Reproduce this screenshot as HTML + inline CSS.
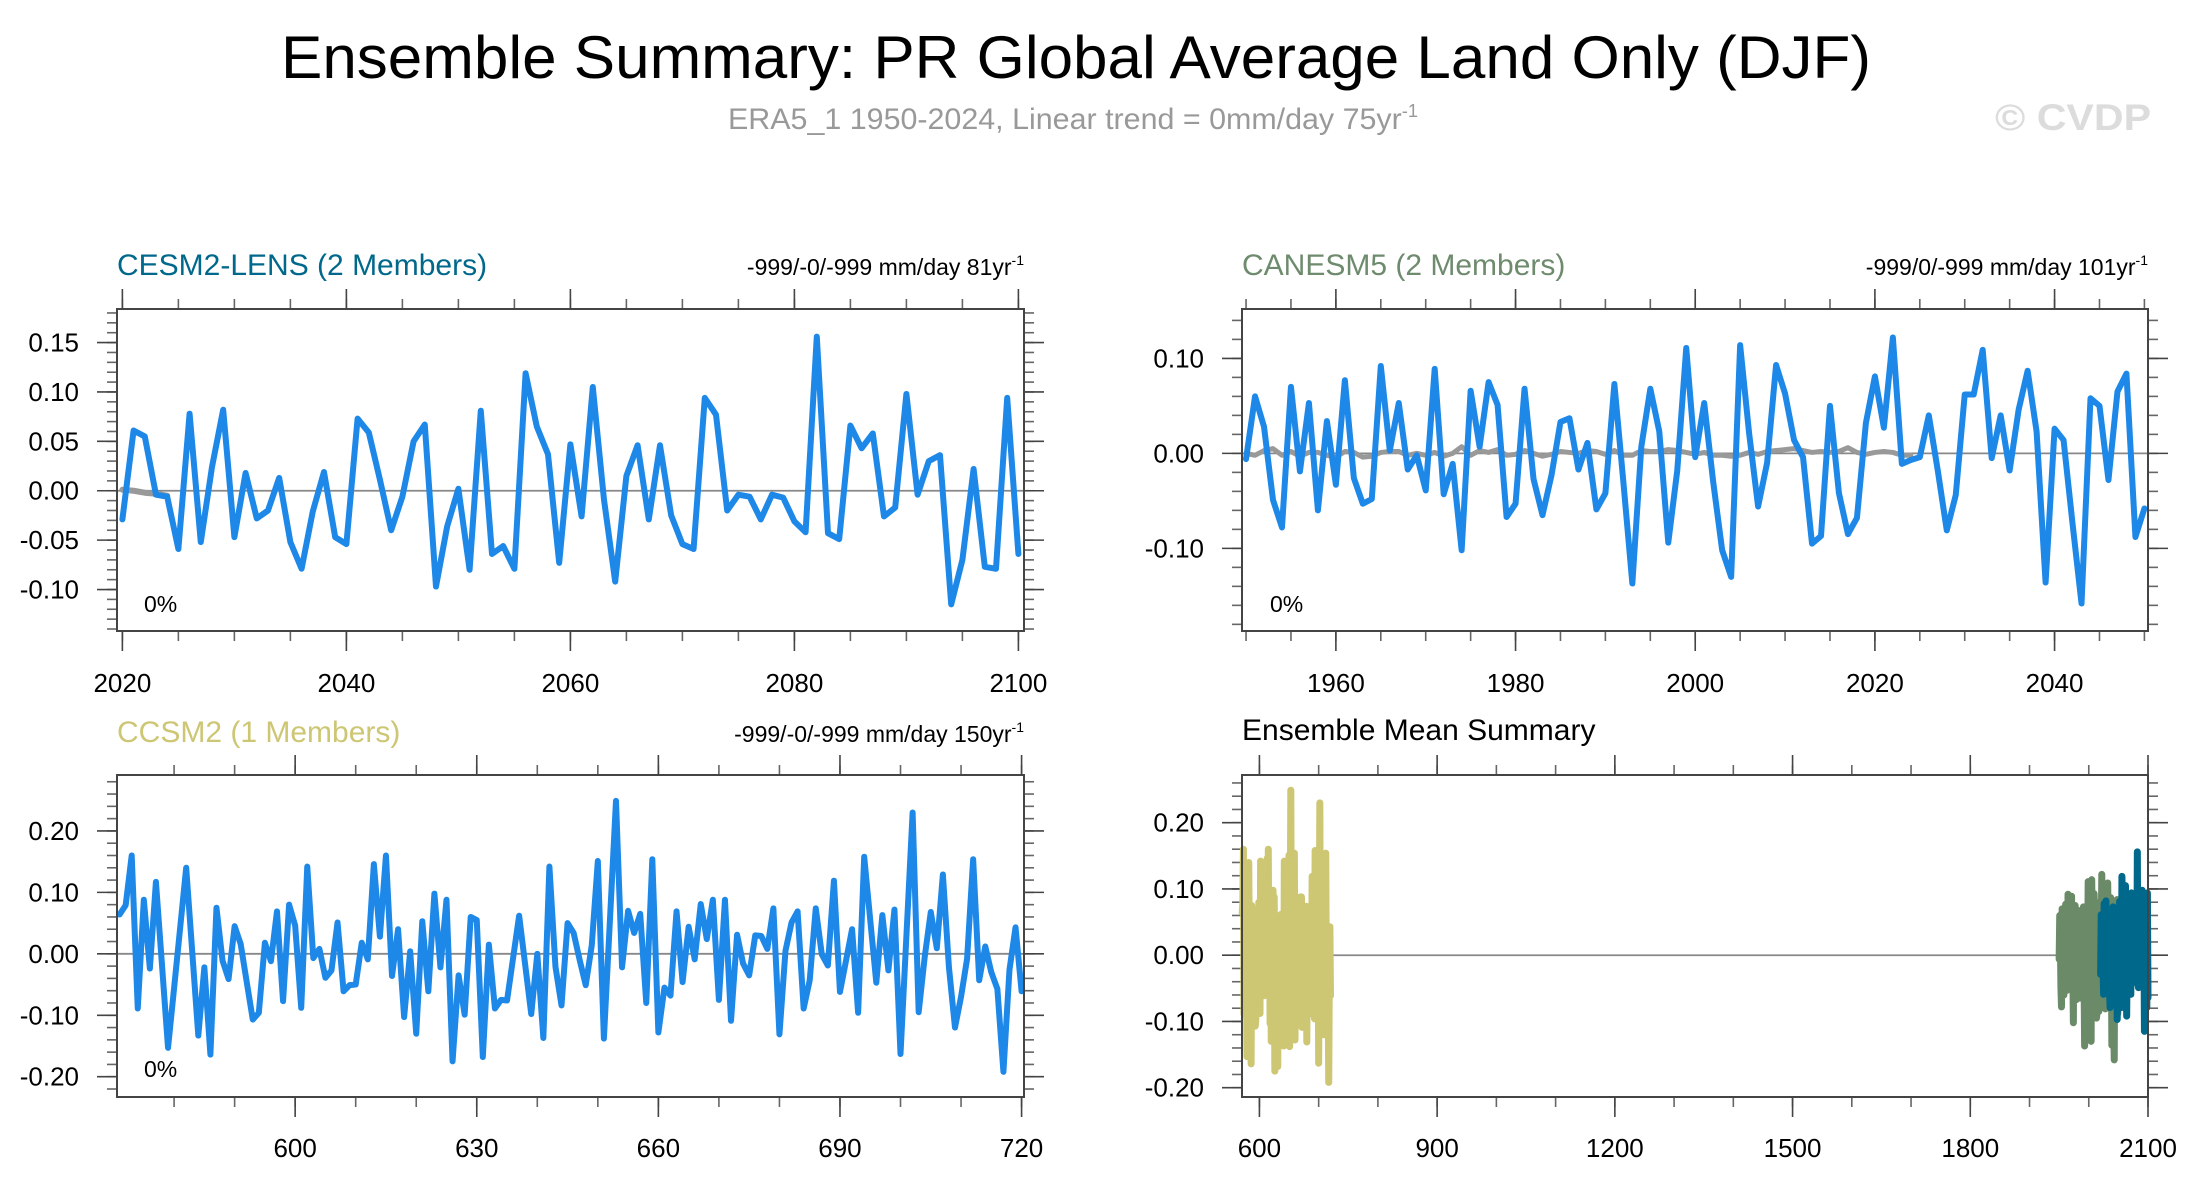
<!DOCTYPE html>
<html><head><meta charset="utf-8">
<style>
html,body{margin:0;padding:0;background:#fff;}
svg{display:block;font-family:"Liberation Sans",Arial,sans-serif;}
</style></head>
<body>
<svg id="chart" width="2189" height="1190" viewBox="0 0 2189 1190" xmlns="http://www.w3.org/2000/svg">
<rect width="2189" height="1190" fill="#fff"/>
<text x="1076" y="78" font-size="60" text-anchor="middle" textLength="1590" lengthAdjust="spacingAndGlyphs" fill="#000">Ensemble Summary: PR Global Average Land Only (DJF)</text>
<text x="728" y="129" font-size="30" fill="#999" textLength="690" lengthAdjust="spacingAndGlyphs">ERA5_1 1950-2024, Linear trend = 0mm/day 75yr<tspan dy="-12" font-size="18">-1</tspan></text>
<text x="1995" y="130" font-size="37" font-weight="bold" fill="#dcdcdc" textLength="156" lengthAdjust="spacingAndGlyphs">© CVDP</text>
<g id="plots"></g>
</svg>
<script>
// ---- Data ----
const cesmYears = [2020, 2100];
const cesmValues = [-0.029,0.061,0.055,-0.004,-0.006,-0.059,0.078,-0.052,0.024,0.082,-0.047,0.018,-0.028,-0.020,0.013,-0.052,-0.079,-0.021,0.019,-0.047,-0.054,0.073,0.059,0.011,-0.040,-0.006,0.050,0.067,-0.097,-0.036,0.002,-0.080,0.081,-0.064,-0.056,-0.079,0.119,0.065,0.037,-0.073,0.047,-0.026,0.105,-0.009,-0.092,0.015,0.046,-0.029,0.046,-0.025,-0.054,-0.059,0.094,0.077,-0.020,-0.004,-0.006,-0.029,-0.004,-0.007,-0.031,-0.042,0.156,-0.043,-0.049,0.066,0.043,0.058,-0.026,-0.017,0.098,-0.004,0.030,0.036,-0.115,-0.070,0.022,-0.077,-0.079,0.094,-0.064];
const cesmSpread = [0.001,0.000,-0.002,-0.003,-0.005];
const caneYears = [1950, 2050];
const caneValues = [-0.006,0.060,0.028,-0.049,-0.078,0.070,-0.019,0.053,-0.060,0.034,-0.033,0.077,-0.026,-0.053,-0.048,0.092,0.003,0.053,-0.017,-0.002,-0.039,0.089,-0.043,-0.011,-0.102,0.066,0.007,0.075,0.051,-0.067,-0.053,0.068,-0.027,-0.065,-0.023,0.033,0.037,-0.017,0.011,-0.059,-0.042,0.073,-0.030,-0.137,0.007,0.068,0.023,-0.094,-0.018,0.111,-0.004,0.053,-0.030,-0.102,-0.130,0.114,0.021,-0.056,-0.010,0.093,0.063,0.014,-0.004,-0.095,-0.087,0.050,-0.042,-0.085,-0.068,0.032,0.081,0.027,0.122,-0.011,-0.007,-0.004,0.040,-0.018,-0.081,-0.044,0.062,0.062,0.109,-0.005,0.040,-0.018,0.046,0.087,0.023,-0.136,0.026,0.014,-0.074,-0.158,0.058,0.050,-0.028,0.065,0.084,-0.088,-0.058];
const caneSpread = [0.000,-0.002,0.003,0.005,-0.002,0.002,-0.003,0.001,0.001,-0.002,-0.004,0.002,0.001,-0.004,-0.003,0.001,0.002,0.002,-0.002,0.000,-0.002,0.001,-0.003,0.000,0.007,-0.002,0.003,0.001,0.004,-0.002,-0.001,0.003,0.000,-0.003,-0.001,0.002,0.001,0.000,0.003,0.002,-0.001,0.003,-0.002,-0.002,0.003,0.002,0.002,0.004,0.003,0.001,-0.001,0.001,-0.002,-0.002,-0.003,-0.002,0.001,-0.001,0.002,0.003,0.004,0.005,0.003,0.001,0.002,0.001,0.002,0.006,0.001,-0.001,0.001,0.002,0.001,-0.002,-0.002];
const ccsmYears = [571, 720];
const ccsmValues = [0.064,0.079,0.160,-0.089,0.088,-0.024,0.117,-0.018,-0.153,-0.056,0.042,0.140,0.003,-0.133,-0.022,-0.164,0.075,-0.011,-0.041,0.045,0.016,-0.046,-0.107,-0.096,0.018,-0.012,0.069,-0.077,0.080,0.046,-0.088,0.142,-0.007,0.008,-0.039,-0.027,0.051,-0.061,-0.051,-0.050,0.018,-0.009,0.146,0.028,0.160,-0.036,0.040,-0.103,0.004,-0.130,0.053,-0.061,0.098,-0.022,0.088,-0.175,-0.035,-0.099,0.060,0.055,-0.168,0.015,-0.089,-0.075,-0.076,-0.007,0.062,-0.018,-0.098,0.000,-0.137,0.142,-0.021,-0.084,0.050,0.034,-0.010,-0.051,0.014,0.151,-0.138,0.055,0.249,-0.022,0.070,0.034,0.065,-0.080,0.154,-0.128,-0.055,-0.068,0.069,-0.046,0.044,-0.009,0.081,0.024,0.088,-0.075,0.088,-0.109,0.031,-0.016,-0.035,0.030,0.029,0.008,0.074,-0.131,0.005,0.051,0.069,-0.089,-0.043,0.074,-0.001,-0.019,0.119,-0.062,-0.011,0.040,-0.096,0.158,0.055,-0.047,0.063,-0.027,0.072,-0.163,0.034,0.230,-0.095,-0.005,0.068,0.009,0.129,-0.022,-0.120,-0.070,-0.008,0.154,-0.043,0.012,-0.030,-0.057,-0.192,-0.026,0.043,-0.061];

const p1YTicks = [0.15,0.10,0.05,0.00,-0.05,-0.10];
const p1XTicks = [2020,2040,2060,2080,2100];
const p2YTicks = [0.10,0.00,-0.10];
const p2XTicks = [1960,1980,2000,2020,2040];
const p3YTicks = [0.20,0.10,0.00,-0.10,-0.20];
const p3XTicks = [600,630,660,690,720];
const p4YTicks = [0.20,0.10,0.00,-0.10,-0.20];
const p4XTicks = [600,900,1200,1500,1800,2100];

const NS = 'http://www.w3.org/2000/svg';
const root = document.getElementById('plots');
function mk(tag, attrs, parent) {
  const e = document.createElementNS(NS, tag);
  for (const k in attrs) e.setAttribute(k, attrs[k]);
  (parent || root).appendChild(e);
  return e;
}
function seriesPath(years, vals, sx, sy) {
  let d = '';
  vals.forEach((v, i) => { d += (i ? 'L' : 'M') + sx(years[0] + i).toFixed(2) + ',' + sy(v).toFixed(2); });
  return d;
}
function panel(cfg) {
  const g = mk('g', {});
  
  
  const L = cfg.box[0], T = cfg.box[1], R = cfg.box[2], B = cfg.box[3];
  const sx = x => L + (x - cfg.xd[0]) / (cfg.xd[1] - cfg.xd[0]) * (R - L);
  const sy = y => T + (cfg.yd[1] - y) / (cfg.yd[1] - cfg.yd[0]) * (B - T);
  const tk = mk('g', { stroke: '#666', 'stroke-width': 1.6 }, g);
  
  
  for (let x = Math.ceil(cfg.xd[0] / cfg.xMinor) * cfg.xMinor; x <= cfg.xd[1] + 1e-9; x += cfg.xMinor) {
    const X = sx(x);
    mk('line', { x1: X, y1: T, x2: X, y2: T - 10 }, tk);
    mk('line', { x1: X, y1: B, x2: X, y2: B + 10 }, tk);
  }
  const ymin = Math.ceil(cfg.yd[0] / cfg.yMinor - 1e-6);
  const ymax = Math.floor(cfg.yd[1] / cfg.yMinor + 1e-6);
  for (let k = ymin; k <= ymax; k++) {
    const Y = sy(k * cfg.yMinor);
    mk('line', { x1: L, y1: Y, x2: L - 10, y2: Y }, tk);
    mk('line', { x1: R, y1: Y, x2: R + 10, y2: Y }, tk);
  }
  cfg.xTicks.forEach(x => {
    const X = sx(x);
    mk('line', { x1: X, y1: T, x2: X, y2: T - 20, stroke: '#444' }, tk);
    mk('line', { x1: X, y1: B, x2: X, y2: B + 20, stroke: '#444' }, tk);
    const t = mk('text', { x: X, y: cfg.xLabelY, 'font-size': 26, 'text-anchor': 'middle', fill: '#000', stroke: 'none' }, g);
    t.textContent = String(x);
    
    
  });
  cfg.yTicks.forEach(y => {
    const Y = sy(y);
    mk('line', { x1: L, y1: Y, x2: L - 20, y2: Y, stroke: '#444' }, tk);
    mk('line', { x1: R, y1: Y, x2: R + 20, y2: Y, stroke: '#444' }, tk);
    const t = mk('text', { x: L - 38, y: Y + 9, 'font-size': 26, 'text-anchor': 'end', fill: '#000' }, g);
    t.textContent = y.toFixed(2);
    
    
  });
  const zl = mk('line', { x1: L, x2: R, y1: sy(0), y2: sy(0), stroke: '#888', 'stroke-width': 1.8 }, g);
  
  
  cfg.series.forEach(s => {
    const p = mk('path', { d: seriesPath(s.years, s.vals, sx, sy), fill: 'none', stroke: s.color, 'stroke-width': s.w, 'stroke-linejoin': 'round', 'stroke-linecap': 'round' }, g);
    
    
  });
  const box = mk('rect', { x: L, y: T, width: R - L, height: B - T, fill: 'none', stroke: '#444', 'stroke-width': 2 }, g);
  
  
  const tt = mk('text', { x: L, y: cfg.titleY, 'font-size': 30, fill: cfg.titleColor }, g);
  tt.textContent = cfg.title;
  
  
  if (cfg.right) {
    const rt = mk('text', { x: R, y: cfg.titleY, 'font-size': 23, 'text-anchor': 'end', fill: '#000' }, g);
    rt.innerHTML = cfg.right + '<tspan dy="-10" font-size="14">-1</tspan>';
    
    
  }
  if (cfg.pct) {
    const pt = mk('text', { x: cfg.pct[0], y: cfg.pct[1], 'font-size': 23, fill: '#000' }, g);
    pt.textContent = '0%';
    
    
  }
}
const blue = '#1e88e8';
panel({ name: 'cesm2-lens-panel', box: [117, 309, 1024, 631], xd: [2019.52, 2100.5], yd: [-0.142, 0.184],
  xTicks: p1XTicks, yTicks: p1YTicks, xMinor: 5, yMinor: 0.01, xLabelY: 692,
  title: 'CESM2-LENS (2 Members)', titleColor: '#00688b', titleY: 275, right: '-999/-0/-999 mm/day 81yr', pct: [144, 612],
  series: [{ name: 'cesm2-spread', years: [2020], vals: cesmSpread, color: '#999', w: 6 },
           { name: 'cesm2-ensemble-line', years: cesmYears, vals: cesmValues, color: blue, w: 6 }] });
panel({ name: 'canesm5-panel', box: [1242, 309, 2148, 631], xd: [1949.55, 2050.4], yd: [-0.187, 0.152],
  xTicks: p2XTicks, yTicks: p2YTicks, xMinor: 5, yMinor: 0.02, xLabelY: 692,
  title: 'CANESM5 (2 Members)', titleColor: '#6e8b6e', titleY: 275, right: '-999/0/-999 mm/day 101yr', pct: [1270, 612],
  series: [{ name: 'canesm5-spread', years: [1950], vals: caneSpread, color: '#999', w: 5 },
           { name: 'canesm5-ensemble-line', years: caneYears, vals: caneValues, color: blue, w: 6 }] });
panel({ name: 'ccsm2-panel', box: [117, 775, 1024, 1097], xd: [570.57, 720.4], yd: [-0.233, 0.291],
  xTicks: p3XTicks, yTicks: p3YTicks, xMinor: 10, yMinor: 0.02, xLabelY: 1157,
  title: 'CCSM2 (1 Members)', titleColor: '#cdc673', titleY: 742, right: '-999/-0/-999 mm/day 150yr', pct: [144, 1077],
  series: [{ name: 'ccsm2-line', years: ccsmYears, vals: ccsmValues, color: blue, w: 6 }] });
panel({ name: 'ensemble-mean-panel', box: [1242, 775, 2148, 1097], xd: [570.6, 2100], yd: [-0.214, 0.272],
  xTicks: p4XTicks, yTicks: p4YTicks, xMinor: 100, yMinor: 0.02, xLabelY: 1157,
  title: 'Ensemble Mean Summary', titleColor: '#000', titleY: 740,
  series: [{ name: 'ccsm2-mean-line', years: ccsmYears, vals: ccsmValues, color: '#cdc673', w: 7 },
           { name: 'canesm5-mean-line', years: caneYears, vals: caneValues, color: '#6a8a68', w: 7 },
           { name: 'cesm2-mean-line', years: cesmYears, vals: cesmValues, color: '#00688b', w: 7 }] });
</script>
</body></html>
